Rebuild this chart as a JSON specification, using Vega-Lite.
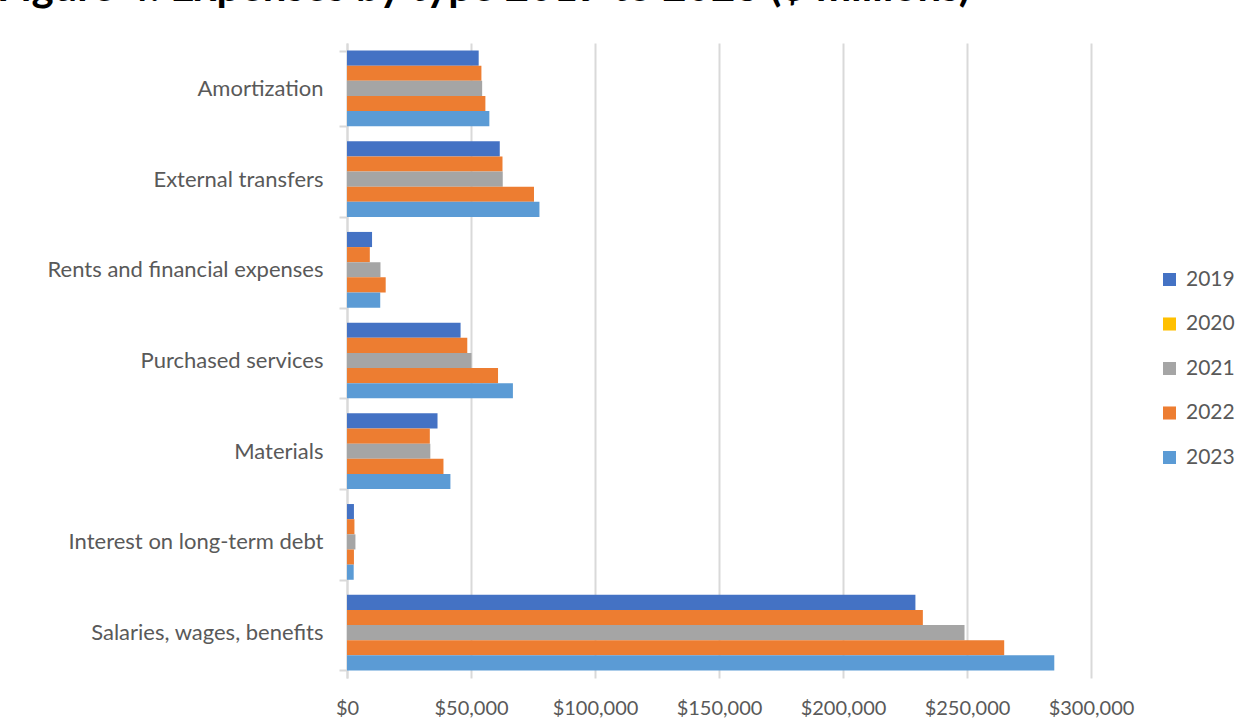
{
  "$schema": "https://vega.github.io/schema/vega-lite/v6.json",
  "width": 744,
  "height": 635,
  "autosize": {"type": "none"},
  "padding": {"left": 347, "top": 43, "right": 157, "bottom": 43},
  "background": "white",
  "title": {
    "text": "Figure 4: Expenses by type 2019 to 2023 ($ millions)",
    "anchor": "start",
    "frame": "group",
    "dx": -350,
    "font": "Lato",
    "fontSize": 42,
    "fontWeight": "bold",
    "color": "#000000",
    "offset": 22
  },
  "config": {
    "view": {"stroke": null},
    "font": "Lato"
  },
  "data": {
    "values": [
      {"category": "Amortization", "year": "2019", "value": 53100},
      {"category": "Amortization", "year": "2020", "value": 54200},
      {"category": "Amortization", "year": "2021", "value": 54500},
      {"category": "Amortization", "year": "2022", "value": 55800},
      {"category": "Amortization", "year": "2023", "value": 57400},
      {"category": "External transfers", "year": "2019", "value": 61600},
      {"category": "External transfers", "year": "2020", "value": 62700},
      {"category": "External transfers", "year": "2021", "value": 62800},
      {"category": "External transfers", "year": "2022", "value": 75400},
      {"category": "External transfers", "year": "2023", "value": 77600},
      {"category": "Rents and financial expenses", "year": "2019", "value": 10100},
      {"category": "Rents and financial expenses", "year": "2020", "value": 9200},
      {"category": "Rents and financial expenses", "year": "2021", "value": 13500},
      {"category": "Rents and financial expenses", "year": "2022", "value": 15600},
      {"category": "Rents and financial expenses", "year": "2023", "value": 13400},
      {"category": "Purchased services", "year": "2019", "value": 45800},
      {"category": "Purchased services", "year": "2020", "value": 48500},
      {"category": "Purchased services", "year": "2021", "value": 50200},
      {"category": "Purchased services", "year": "2022", "value": 60900},
      {"category": "Purchased services", "year": "2023", "value": 66900},
      {"category": "Materials", "year": "2019", "value": 36500},
      {"category": "Materials", "year": "2020", "value": 33400},
      {"category": "Materials", "year": "2021", "value": 33600},
      {"category": "Materials", "year": "2022", "value": 38900},
      {"category": "Materials", "year": "2023", "value": 41700},
      {"category": "Interest on long-term debt", "year": "2019", "value": 2800},
      {"category": "Interest on long-term debt", "year": "2020", "value": 3000},
      {"category": "Interest on long-term debt", "year": "2021", "value": 3400},
      {"category": "Interest on long-term debt", "year": "2022", "value": 2800},
      {"category": "Interest on long-term debt", "year": "2023", "value": 2700},
      {"category": "Salaries, wages, benefits", "year": "2019", "value": 229200},
      {"category": "Salaries, wages, benefits", "year": "2020", "value": 232200},
      {"category": "Salaries, wages, benefits", "year": "2021", "value": 249000},
      {"category": "Salaries, wages, benefits", "year": "2022", "value": 265000},
      {"category": "Salaries, wages, benefits", "year": "2023", "value": 285200}
    ]
  },
  "encoding": {
    "y": {
      "field": "category",
      "type": "nominal",
      "sort": ["Amortization", "External transfers", "Rents and financial expenses", "Purchased services", "Materials", "Interest on long-term debt", "Salaries, wages, benefits"],
      "scale": {"paddingInner": 0.165, "paddingOuter": 0.083},
      "axis": {
        "title": null,
        "tickBand": "extent",
        "domainColor": "#d9d9d9",
        "domainWidth": 2,
        "tickColor": "#d9d9d9",
        "tickWidth": 2,
        "tickSize": 8,
        "labelFontSize": 22,
        "labelColor": "#595959",
        "labelPadding": 16,
        "labelLimit": 0,
        "labelFont": "Lato",
        "grid": false
      }
    },
    "yOffset": {
      "field": "year",
      "type": "nominal",
      "sort": ["2019", "2020", "2021", "2022", "2023"]
    },
    "x": {
      "field": "value",
      "type": "quantitative",
      "scale": {"domain": [0, 300000], "nice": false},
      "axis": {
        "title": null,
        "values": [0, 50000, 100000, 150000, 200000, 250000, 300000],
        "format": "$,.0f",
        "domain": false,
        "ticks": false,
        "grid": true,
        "gridColor": "#d9d9d9",
        "gridWidth": 2,
        "labelFontSize": 20,
        "labelColor": "#595959",
        "labelPadding": 20,
        "labelOverlap": false,
        "labelFlush": false,
        "labelFont": "Lato"
      }
    }
  },
  "layer": [
    {
      "mark": {"type": "bar"},
      "encoding": {
        "fill": {
          "field": "year",
          "type": "nominal",
          "scale": {
            "range": ["#4472C4", "#ED7D31", "#A5A5A5", "#ED7D31", "#5B9BD5"]
          },
          "legend": null
        }
      }
    },
    {
      "mark": {"type": "bar", "fillOpacity": 0},
      "encoding": {
        "color": {
          "field": "year",
          "type": "nominal",
          "scale": {
            "domain": ["2019", "2020", "2021", "2022", "2023"],
            "range": ["#4472C4", "#FFC000", "#A5A5A5", "#ED7D31", "#5B9BD5"]
          },
          "legend": {
            "title": null,
            "orient": "none",
            "legendX": 812,
            "legendY": 226,
            "symbolType": "square",
            "symbolSize": 170,
            "symbolOpacity": 1,
            "symbolFillOpacity": 1,
            "symbolStrokeWidth": 0,
            "labelFontSize": 21,
            "labelColor": "#595959",
            "labelFont": "Lato",
            "rowPadding": 22.5,
            "labelOffset": 6
          }
        }
      }
    }
  ]
}
